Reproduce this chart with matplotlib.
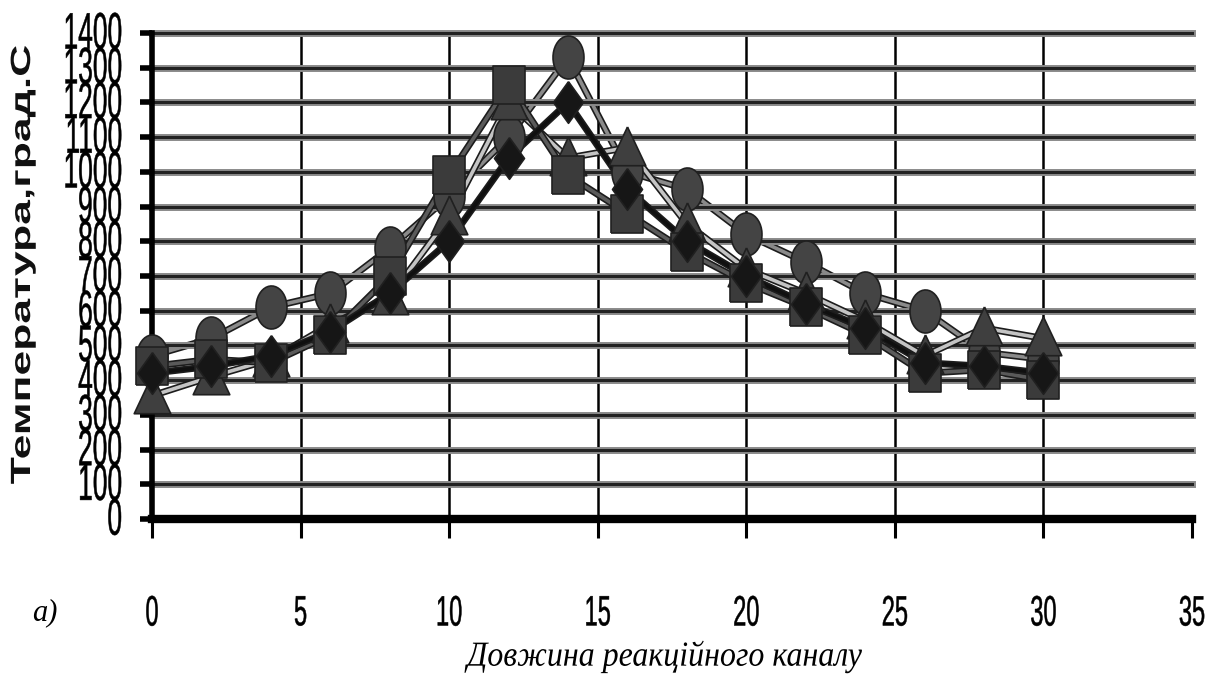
import numpy as np
import matplotlib
matplotlib.use('Agg')
import matplotlib.pyplot as plt
import matplotlib.patheffects as pe
from matplotlib.transforms import Affine2D, blended_transform_factory

# ---------------- data ----------------
x_len = [0, 2, 4, 6, 8, 10, 12, 14, 16, 18, 20, 22, 24, 26, 28, 30]
t_diamond = [420, 440, 470, 540, 650, 800, 1040, 1200, 950, 800, 700, 620, 550, 450, 440, 420]
t_square = [440, 460, 450, 530, 700, 990, 1250, 990, 880, 770, 680, 610, 530, 420, 430, 400]
t_triangle = [355, 410, 460, 560, 640, 870, 1200, 1040, 1070, 850, 720, 650, 570, 470, 550, 520]
t_circle = [470, 520, 610, 650, 780, 930, 1100, 1330, 1000, 950, 820, 740, 650, 600, 480, 460]

x_ticks = [0, 5, 10, 15, 20, 25, 30, 35]
y_ticks = [0, 100, 200, 300, 400, 500, 600, 700, 800, 900, 1000, 1100, 1200, 1300, 1400]
x_label = 'Довжина реакційного каналу'
y_label = 'Температура,град.С'
panel_label = 'а)'


class Stretch(pe.AbstractPathEffect):
    """Stretch a text path about its own centre (text stays a Text artist)."""
    def __init__(self, sx=1.0, sy=1.0, stroke=0.0):
        super().__init__()
        self.sx, self.sy, self.stroke = sx, sy, stroke

    def draw_path(self, renderer, gc, tpath, affine, rgbFace=None):
        ext = tpath.get_extents()
        cx = (ext.x0 + ext.x1) / 2
        cy = (ext.y0 + ext.y1) / 2
        t = Affine2D().translate(-cx, -cy).scale(self.sx, self.sy).translate(cx, cy) + affine
        gc0 = renderer.new_gc()
        gc0.copy_properties(gc)
        if self.stroke > 0 and rgbFace is not None:
            gc0.set_linewidth(self.stroke)
            gc0.set_foreground(rgbFace)
        renderer.draw_path(gc0, tpath, t, rgbFace)
        gc0.restore()


W, H = 1224, 676
fig = plt.figure(figsize=(W / 100, H / 100), dpi=100)
fig.patch.set_facecolor('white')
ax = fig.add_axes([152 / W, 157 / H, 1040 / W, 486 / H])
ax.set_xlim(0, 35)
ax.set_ylim(0, 1400)

# grid
ax.set_xticks(x_ticks)
ax.set_yticks(y_ticks)
ax.grid(axis='y', color='#222222', lw=2.2)
for gl in ax.get_ygridlines():
    gl.set_path_effects([pe.Stroke(linewidth=5.0, foreground='#8a8a8a'), pe.Normal()])
    gl.set_clip_on(False)
    gl.set_zorder(0.5)
for t in x_ticks:
    if 0 < t < x_ticks[-1]:
        ax.axvline(t, color='black', lw=1.8, zorder=0.6)

# spines / ticks
for s in ('top', 'right'):
    ax.spines[s].set_visible(False)
ax.spines['left'].set_linewidth(4.0)
ax.spines['bottom'].set_linewidth(6.0)
ax.spines['left'].set_zorder(3)
ax.spines['bottom'].set_zorder(3)
ax.tick_params(axis='y', direction='out', length=9, width=4, labelleft=False)
ax.tick_params(axis='x', direction='out', length=14, width=2.2, labelbottom=False)

# marker shapes (vertically elongated, like the scanned original)
th = np.linspace(0, 2 * np.pi, 40)
m_circle = list(zip(0.72 * np.cos(th), np.sin(th)))
m_diamond = [(0, 1), (0.72, 0), (0, -1), (-0.72, 0), (0, 1)]
m_square = [(-0.72, -0.9), (0.72, -0.9), (0.72, 0.9), (-0.72, 0.9), (-0.72, -0.9)]
m_triangle = [(0, 1), (0.85, -0.8), (-0.85, -0.8), (0, 1)]

series = [
    (t_circle, m_circle, '#444444', '#8a8a8a', 4, 31),
    (t_triangle, m_triangle, '#3f3f3f', '#c4c4c4', 5, 31),
    (t_square, m_square, '#3b3b3b', '#5a5a5a', 6, 28),
    (t_diamond, m_diamond, '#161616', '#101010', 7, 30),
]
for vals, mk, face, lc, z, ms in series:
    ax.plot(x_len, vals, color=lc, lw=2.6, zorder=z - 3, solid_capstyle='round',
            path_effects=[pe.Stroke(linewidth=5.0, foreground='#1c1c1c'), pe.Normal()])
for vals, mk, face, lc, z, ms in series:
    ax.plot(x_len, vals, ls='none', marker=mk, ms=ms, mfc=face, mec='#202020',
            mew=1.2, zorder=z, clip_on=False)

# y tick labels (tall, narrow)
ytr = blended_transform_factory(fig.transFigure, ax.transData)
for v in y_ticks:
    fig.text(122 / W, v, str(v), transform=ytr, ha='right', va='center',
             family='Liberation Sans', fontsize=19, color='black',
             path_effects=[Stretch(1.0, 1.95, stroke=0.35)])

# x tick labels
xtr = blended_transform_factory(ax.transData, fig.transFigure)
for v in x_ticks:
    fig.text(v, (H - 613) / H, str(v), transform=xtr, ha='center', va='center',
             family='Liberation Sans', fontsize=17, color='black',
             path_effects=[Stretch(1.0, 1.8, stroke=0.35)])

# axis titles
fig.text(23 / W, (H - 265) / H, y_label, rotation=90, ha='center', va='center',
         family='Liberation Sans', fontweight='bold', fontsize=20, color='#111111',
         path_effects=[Stretch(1.6, 1.0)])
fig.text(665 / W, (H - 657) / H, x_label, ha='center', va='center',
         family='Liberation Serif', style='italic', fontsize=23, color='black',
         path_effects=[Stretch(1.0, 1.1)])
fig.text(45 / W, (H - 613) / H, panel_label, ha='center', va='center',
         family='Liberation Serif', style='italic', fontsize=22, color='black')

fig.savefig('out.png', dpi=100, facecolor='white')
